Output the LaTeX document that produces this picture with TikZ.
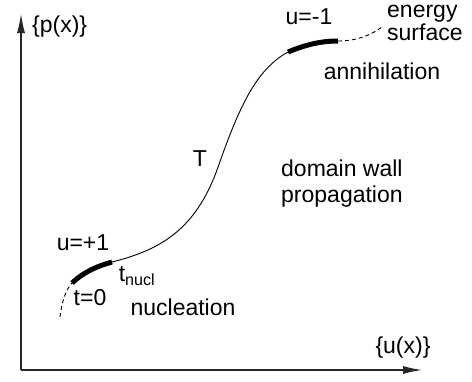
\documentclass[tikz,border=0pt]{standalone}
\usepackage{fontspec}
\setmainfont{Liberation Sans}
\usetikzlibrary{arrows.meta}
\tikzset{
  lbl/.style={inner sep=0pt, font=\fontsize{23}{26}\selectfont},
  axis/.style={line width=1.2pt, black!85, -{Latex[length=19pt, width=8pt]}},
  orbit/.style={line width=0.9pt},
  phase/.style={line width=5pt},
  tail/.style={line width=0.9pt, dashed, dash pattern=on 4pt off 3pt}
}
\begin{document}
\begin{tikzpicture}[x=1pt, y=-1pt]
  \useasboundingbox (0,0) rectangle (472,381);

  % Axes
  \coordinate (O) at (21,370);
  \coordinate (ytop) at (21,14);
  \coordinate (xend) at (422,370);
  \draw[axis] (O) -- (ytop);
  \draw[axis] (O) -- (xend);
  \node[lbl, anchor=west] (plabel) at (32,27) {\{p(x)\}};
  \node[lbl] (ulabel) at (403,348) {\{u(x)\}};

  % Points on the path
  \coordinate (start) at (60,317);
  \coordinate (t0) at (72,283);
  \coordinate (tn) at (112,262);
  \coordinate (mid) at (217,170);
  \coordinate (ann) at (288,52);
  \coordinate (tend) at (338,41);
  \coordinate (stop) at (382,27);

  % Dashed ends of the energy surface
  \draw[tail] (start) .. controls (62,300) and (66,290) .. (t0);
  \draw[tail] (tend) .. controls (355,41) and (370,36) .. (stop);

  % Thin trajectory
  \draw[orbit] (tn) .. controls (160,250) and (195,230) .. (mid)
               .. controls (238,110) and (255,70) .. (ann);

  % Thick phases
  \draw[phase] (t0) .. controls (85,271) and (98,266) .. (tn);
  \draw[phase] (ann) .. controls (305,45) and (320,41) .. (tend);

  % Labels
  \node[lbl] (uplus) at (83,243) {u=+1};
  \node[lbl] (tnucl) at (137,276) {t\textsubscript{nucl}};
  \node[lbl] (tzero) at (90,298) {t=0};
  \node[lbl] (nucl) at (183,307) {nucleation};
  \node[lbl] (T) at (200,159) {T};
  \node[lbl, anchor=west, align=left] (dw) at (281,184) {domain wall\\propagation};
  \node[lbl] (uminus) at (309,17) {u=-1};
  \node[lbl, anchor=west, align=left, font=\fontsize{23}{23}\selectfont] (energy) at (387,23) {energy\\surface};
  \node[lbl] (annih) at (382,71) {annihilation};

\end{tikzpicture}
\end{document}
